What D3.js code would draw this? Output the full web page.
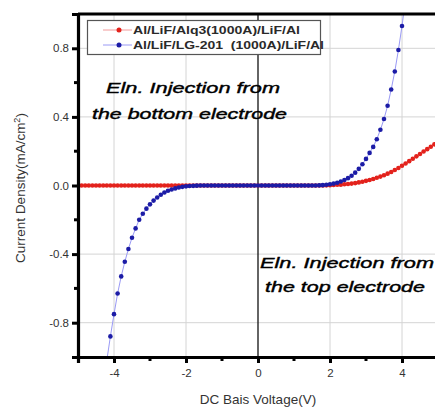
<!DOCTYPE html>
<html>
<head>
<meta charset="utf-8">
<script src="https://cdn.jsdelivr.net/npm/d3@7"></script>
<style>
  body { margin: 0; background: #fff; }
  svg { display: block; font-family: "Liberation Sans", Arial, sans-serif; }
</style>
</head>
<body>
<div id="chart"></div>
<script>
// bias voltage (V), one reading every 0.1 V
var volts = [
  -5.0,-4.9,-4.8,-4.7,-4.6,-4.5,-4.4,-4.3,-4.2,-4.1,
  -4.0,-3.9,-3.8,-3.7,-3.6,-3.5,-3.4,-3.3,-3.2,-3.1,
  -3.0,-2.9,-2.8,-2.7,-2.6,-2.5,-2.4,-2.3,-2.2,-2.1,
  -2.0,-1.9,-1.8,-1.7,-1.6,-1.5,-1.4,-1.3,-1.2,-1.1,
  -1.0,-0.9,-0.8,-0.7,-0.6,-0.5,-0.4,-0.3,-0.2,-0.1,
   0.0, 0.1, 0.2, 0.3, 0.4, 0.5, 0.6, 0.7, 0.8, 0.9,
   1.0, 1.1, 1.2, 1.3, 1.4, 1.5, 1.6, 1.7, 1.8, 1.9,
   2.0, 2.1, 2.2, 2.3, 2.4, 2.5, 2.6, 2.7, 2.8, 2.9,
   3.0, 3.1, 3.2, 3.3, 3.4, 3.5, 3.6, 3.7, 3.8, 3.9,
   4.0, 4.1, 4.2, 4.3, 4.4, 4.5, 4.6, 4.7, 4.8, 4.9,
   5.0
];

// Al/LiF/Alq3(1000A)/LiF/Al  (mA/cm2)
var alq3 = [
  0,0,0,0,0,0,0,0,0,0,
  0,0,0,0,0,0,0,0,0,0,
  0,0,0,0,0,0,0,0,0,0,
  0,0,0,0,0,0,0,0,0,0,
  0,0,0,0,0,0,0,0,0,0,
  0,0,0,0,0,0,0,0,0,0,
  0,0,0,0,0,0,0,0,0,0.001,
  0.002,0.003,0.004,0.005,0.007,0.009,0.011,0.014,0.018,0.022,
  0.027,0.032,0.038,0.045,0.052,0.060,0.069,0.079,0.090,0.102,
  0.115,0.128,0.142,0.156,0.170,0.184,0.198,0.212,0.226,0.240,
  0.255
];

// Al/LiF/LG-201 (1000A)/LiF/Al  (mA/cm2), null = not measured
var lg201 = [
  null,null,null,null,null,null,null,-1.18,-1.02,-0.88,
  -0.75,-0.63,-0.53,-0.445,-0.37,-0.305,-0.25,-0.20,-0.165,-0.135,
  -0.11,-0.088,-0.07,-0.054,-0.041,-0.031,-0.023,-0.017,-0.012,-0.008,
  -0.005,-0.003,-0.002,-0.001,0,0,0,0,0,0,
  0,0,0,0,0,0,0,0,0,0,
  0,0,0,0,0,0,0,0,0,0,
  0,0,0,0,0,0,0,0.001,0.002,0.004,
  0.007,0.011,0.016,0.023,0.032,0.043,0.057,0.075,0.097,0.124,
  0.155,0.19,0.225,0.27,0.325,0.388,0.465,0.56,0.665,0.79,
  0.93,1.09,null,null,null,null,null,null,null,null,
  null
];

var seriesNames = ["Al/LiF/Alq3(1000A)/LiF/Al", "Al/LiF/LG-201  (1000A)/LiF/Al"];
var xMajor = [-4, -2, 0, 2, 4];
var xMinor = [-3, -1, 1, 3];
var yMajor = [-0.8, -0.4, 0.0, 0.4, 0.8];
var yMinor = [-0.6, -0.2, 0.2, 0.6];

var width = 435, height = 408;
var padL = 78, padT = 14, padB = 357;

var x = d3.scaleLinear().domain([-5, 5]).range([padL, padL + 360]);
var y = d3.scaleLinear().domain([-1, 1]).range([padB, padT]);

var svg = d3.select("#chart").append("svg")
    .attr("width", width)
    .attr("height", height);

svg.append("defs").append("clipPath").attr("id", "plot")
  .append("rect")
    .attr("x", padL).attr("y", padT)
    .attr("width", x(5) - padL).attr("height", padB - padT);

// grid
var grid = svg.append("g").attr("stroke", "#d4d4d4").attr("stroke-width", 1);
grid.selectAll("line.gx").data(xMajor.filter(d => d !== 0)).enter().append("line")
    .attr("x1", d => x(d)).attr("x2", d => x(d))
    .attr("y1", padT).attr("y2", padB);
grid.selectAll("line.gy").data(yMajor.filter(d => d !== 0)).enter().append("line")
    .attr("x1", padL).attr("x2", x(5))
    .attr("y1", d => y(d)).attr("y2", d => y(d));

// zero bias line
svg.append("line")
    .attr("x1", x(0)).attr("x2", x(0))
    .attr("y1", padT).attr("y2", padB)
    .attr("stroke", "#111").attr("stroke-width", 1.3);

// series
var series = [
  { name: seriesNames[0], values: alq3, line: "#f29a9a", dot: "#e3221c" },
  { name: seriesNames[1], values: lg201, line: "#9a9af5", dot: "#1c1ca6" }
];

var plot = svg.append("g").attr("clip-path", "url(#plot)");
var lineGen = d3.line()
    .defined(d => d[1] !== null)
    .x(d => x(d[0]))
    .y(d => y(d[1]));

series.forEach(function (s) {
  var pts = volts.map((v, i) => [v, s.values[i]]);
  plot.append("path")
      .datum(pts)
      .attr("fill", "none")
      .attr("stroke", s.line)
      .attr("stroke-width", 1)
      .attr("d", lineGen);
  plot.append("g").selectAll("circle")
      .data(pts.filter(d => d[1] !== null))
      .enter().append("circle")
      .attr("cx", d => x(d[0]))
      .attr("cy", d => y(d[1]))
      .attr("r", 2.3)
      .attr("fill", s.dot);
});

// frame + axes
svg.append("line")
    .attr("x1", padL).attr("x2", width + 5)
    .attr("y1", padT).attr("y2", padT)
    .attr("stroke", "#000").attr("stroke-width", 3);

var hyphen = f => d => f(d).replace("\u2212", "-");
var xAxis = svg.append("g")
    .attr("transform", "translate(0," + padB + ")")
    .call(d3.axisBottom(x).tickValues(xMajor).tickSize(6).tickPadding(6).tickFormat(hyphen(d3.format("d"))));
var yAxis = svg.append("g")
    .attr("transform", "translate(" + padL + ",0)")
    .call(d3.axisLeft(y).tickValues(yMajor).tickSize(6).tickPadding(3).tickFormat(hyphen(d3.format(".1f"))));

[xAxis, yAxis].forEach(function (a) {
  a.select(".domain").attr("stroke", "#000").attr("stroke-width", 3.2);
  a.selectAll(".tick line").attr("stroke", "#000").attr("stroke-width", 3);
  a.selectAll(".tick text").attr("fill", "#333").attr("font-size", 11.5)
      .attr("font-family", "'Liberation Sans', Arial, sans-serif");
});

xAxis.selectAll("line.minor").data(xMinor).enter().append("line")
    .attr("x1", d => x(d)).attr("x2", d => x(d))
    .attr("y1", 0).attr("y2", 4)
    .attr("stroke", "#000").attr("stroke-width", 3);
yAxis.selectAll("line.minor").data(yMinor).enter().append("line")
    .attr("x1", -4).attr("x2", 0)
    .attr("y1", d => y(d)).attr("y2", d => y(d))
    .attr("stroke", "#000").attr("stroke-width", 3);

// legend
var legend = svg.append("g");
legend.append("rect")
    .attr("x", 87.5).attr("y", 20.5)
    .attr("width", 233).attr("height", 34)
    .attr("fill", "#fff").attr("stroke", "#555").attr("stroke-width", 1.2);
series.forEach(function (s, i) {
  var ly = 30 + i * 15;
  legend.append("line")
      .attr("x1", 103).attr("x2", 132)
      .attr("y1", ly).attr("y2", ly)
      .attr("stroke", s.line).attr("stroke-width", 1);
  legend.append("circle")
      .attr("cx", 119).attr("cy", ly).attr("r", 2.5).attr("fill", s.dot);
  legend.append("text")
      .attr("x", 133).attr("y", ly + 3.8)
      .attr("font-size", 10.5).attr("font-weight", "bold")
      .attr("fill", "#2a2a2a")
      .style("white-space", "pre")
      .attr("textLength", i === 0 ? 167 : 191)
      .attr("lengthAdjust", "spacingAndGlyphs")
      .text(s.name);
});

// annotations
var notes = [
  { t: "Eln. Injection from", x: 106, y: 93, w: 174 },
  { t: "the bottom electrode", x: 92, y: 119, w: 195 },
  { t: "Eln. Injection from", x: 260, y: 268, w: 174 },
  { t: "the top electrode", x: 265, y: 292, w: 160 }
];
svg.selectAll("text.note").data(notes).enter().append("text")
    .attr("x", d => d.x).attr("y", d => d.y)
    .attr("font-size", 15).attr("font-style", "italic")
    .attr("fill", "#000")
    .attr("stroke", "#000").attr("stroke-width", 0.4)
    .attr("textLength", d => d.w)
    .attr("lengthAdjust", "spacingAndGlyphs")
    .text(d => d.t);

// axis titles
svg.append("text")
    .attr("x", x(0)).attr("y", 404)
    .attr("text-anchor", "middle")
    .attr("font-size", 13.5).attr("fill", "#333")
    .text("DC Bais Voltage(V)");

var yt = svg.append("text")
    .attr("transform", "translate(25," + 188 + ") rotate(-90)")
    .attr("text-anchor", "middle")
    .attr("font-size", 13.5).attr("fill", "#333");
yt.append("tspan").text("Current Density(mA/cm");
yt.append("tspan").attr("dy", -5).attr("font-size", 9).text("2");
yt.append("tspan").attr("dy", 5).text(")");
</script>
</body>
</html>
